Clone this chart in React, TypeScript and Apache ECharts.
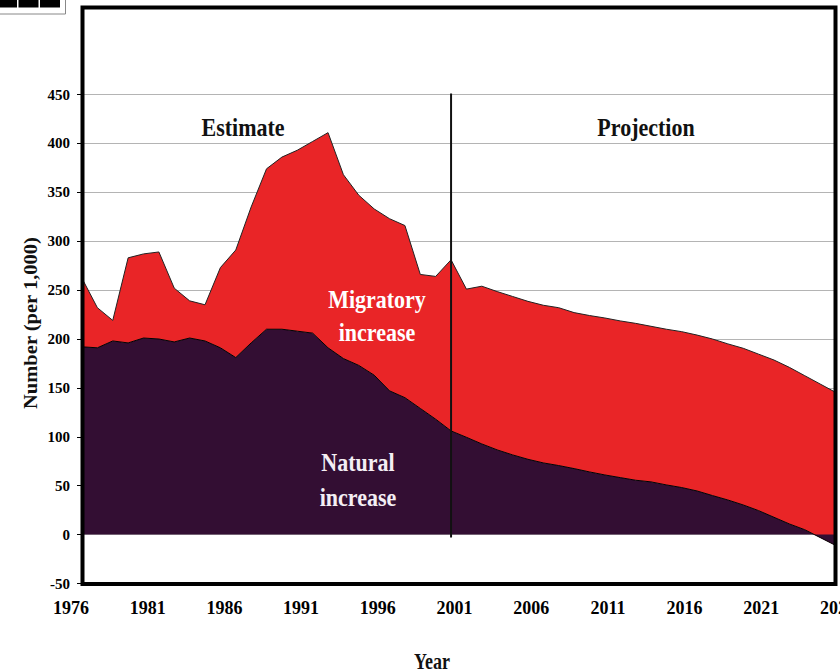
import React, { useEffect, useRef } from "react";
import * as echarts from "echarts";

// Years with data (estimate 1977-2001, projection 2002-2026)
const YEARS = [
  "1977", "1978", "1979", "1980", "1981", "1982", "1983", "1984", "1985", "1986",
  "1987", "1988", "1989", "1990", "1991", "1992", "1993", "1994", "1995", "1996",
  "1997", "1998", "1999", "2000", "2001", "2002", "2003", "2004", "2005", "2006",
  "2007", "2008", "2009", "2010", "2011", "2012", "2013", "2014", "2015", "2016",
  "2017", "2018", "2019", "2020", "2021", "2022", "2023", "2024", "2025", "2026",
];
// Tick-label axis (starts one year before the data)
const AXIS_YEARS = ["1976", ...YEARS];

const NATURAL = [
  192, 191, 198, 196, 201, 200, 197, 201, 198, 191,
  181, 196, 210, 210, 208, 206, 191, 180, 173, 163,
  147, 140, 129, 118, 106, 99.5, 92.7, 86.6, 81.5, 77,
  73.3, 70.6, 67.5, 64.1, 61, 58.3, 55.6, 53.9, 50.8, 48.1,
  44.6, 39.9, 35.4, 30.3, 24.5, 17.7, 10.9, 5, -3, -11,
];
const MIGRATORY = [
  70, 41, 21, 87, 86, 89, 55, 38, 37, 82,
  110, 139, 164, 176, 185, 196, 220, 188, 174, 170,
  176, 176, 137, 146, 175, 151.5, 161.3, 161.9, 162, 161.5,
  161.2, 161.4, 159.5, 159.9, 160.5, 160.2, 160.4, 159.1, 159.2, 159.4,
  159.4, 160.1, 159.6, 160.2, 160, 160.8, 160.1, 157.5, 157, 156.5,
];
// Estimate / projection divider (year, from value, to value)
const DIVIDER_YEAR = "2001";
const DIVIDER_RANGE = [453, -3];

const FONT = '"Liberation Serif", "Times New Roman", serif';
const RED = "#E92527";
const PURPLE = "#330E33";

export default function App() {
  const ref = useRef<HTMLDivElement>(null);
  useEffect(() => {
    if (!ref.current) return;
    const chart = echarts.init(ref.current, undefined, { renderer: "svg" });
    const textEl = (text: string, x: number, y: number, size: number, fill: string, extra: any = {}) => ({
      type: "text",
      x,
      y,
      z: 50,
      silent: true,
      scaleY: 1.14,
      ...extra,
      style: {
        text,
        fill,
        font: `bold ${size}px ${FONT}`,
        textAlign: "center",
        textVerticalAlign: "middle",
        verticalAlign: "middle",
        ...(extra.style || {}),
      },
    });
    chart.setOption({
      animation: false,
      backgroundColor: "#fff",
      grid: [
        { left: 82, right: 4.5, top: 94.5, bottom: 88.5, containLabel: false, outerBoundsMode: "none" },
        { left: 71, right: 2, top: 94.5, bottom: 88.5, containLabel: false, outerBoundsMode: "none" },
      ],
      xAxis: [
        {
          type: "category",
          gridIndex: 0,
          data: YEARS,
          boundaryGap: false,
          axisLine: { show: false },
          axisTick: { show: false },
          axisLabel: { show: false },
          splitLine: { show: false },
        },
        {
          type: "category",
          gridIndex: 1,
          data: AXIS_YEARS,
          boundaryGap: false,
          axisLine: { show: false },
          axisTick: { show: false },
          splitLine: { show: false },
          axisLabel: {
            interval: 4,
            margin: 15,
            color: "#000",
            fontFamily: FONT,
            fontWeight: "bold",
            fontSize: 18,
            hideOverlap: false,
          },
        },
      ],
      yAxis: [
        {
          type: "value",
          gridIndex: 0,
          min: -50,
          max: 450,
          interval: 50,
          axisLine: { show: false },
          axisTick: { show: true, length: 5, lineStyle: { color: "#000", width: 1 } },
          axisLabel: {
            margin: 12,
            color: "#000",
            fontFamily: FONT,
            fontWeight: "bold",
            fontSize: 15,
          },
          splitLine: { show: true, lineStyle: { color: "#b4b4b4", width: 1 } },
        },
        { type: "value", gridIndex: 1, show: false },
      ],
      series: [
        {
          name: "Natural increase",
          type: "line",
          xAxisIndex: 0,
          yAxisIndex: 0,
          stack: "total",
          stackStrategy: "all",
          data: NATURAL,
          symbol: "none",
          silent: true,
          z: 3,
          lineStyle: { color: "#000", width: 1 },
          areaStyle: { color: PURPLE, opacity: 1 },
        },
        {
          name: "Migratory increase",
          type: "line",
          xAxisIndex: 0,
          yAxisIndex: 0,
          stack: "total",
          stackStrategy: "all",
          data: MIGRATORY,
          symbol: "none",
          silent: true,
          z: 2,
          lineStyle: { color: "#222", width: 1 },
          areaStyle: { color: RED, opacity: 1 },
        },
        {
          name: "divider",
          type: "line",
          xAxisIndex: 0,
          yAxisIndex: 0,
          data: DIVIDER_RANGE.map((v) => [DIVIDER_YEAR, v]),
          symbol: "none",
          silent: true,
          z: 5,
          lineStyle: { color: "#111", width: 2 },
        },
      ],
      graphic: [
        {
          type: "rect",
          z: 100,
          silent: true,
          shape: { x: 82.5, y: 7.5, width: 753, height: 576.5 },
          style: { fill: "none", stroke: "#000", lineWidth: 4 },
        },
        {
          type: "rect",
          z: 100,
          silent: true,
          shape: { x: -2, y: -2, width: 67.5, height: 16 },
          style: { fill: "#fff", stroke: "#888", lineWidth: 1 },
        },
        { type: "rect", z: 101, silent: true, shape: { x: 0, y: 0, width: 17, height: 7.5 }, style: { fill: "#000" } },
        { type: "rect", z: 101, silent: true, shape: { x: 18.5, y: 0, width: 20, height: 7.5 }, style: { fill: "#000" } },
        { type: "rect", z: 101, silent: true, shape: { x: 40, y: 0, width: 20, height: 7.5 }, style: { fill: "#000" } },
        textEl("Estimate", 243, 127, 22, "#111"),
        textEl("Projection", 646, 127, 22, "#111"),
        textEl("Migratory\nincrease", 377, 316, 22, "#fff", { style: { lineHeight: 29 } }),
        textEl("Natural\nincrease", 358, 480, 22, "#f4eef4", { style: { lineHeight: 30 } }),
        textEl("Year", 432, 661, 18, "#111", { scaleY: 1.25 }),
        textEl("Number (per 1,000)", 31, 323, 18, "#111", { scaleY: 1, scaleX: 1.14, rotation: Math.PI / 2 }),
      ],
    });
    return () => chart.dispose();
  }, []);
  return (
    <div
      ref={ref}
      style={{ position: "fixed", left: 0, top: 0, width: 840, height: 672 }}
    />
  );
}
